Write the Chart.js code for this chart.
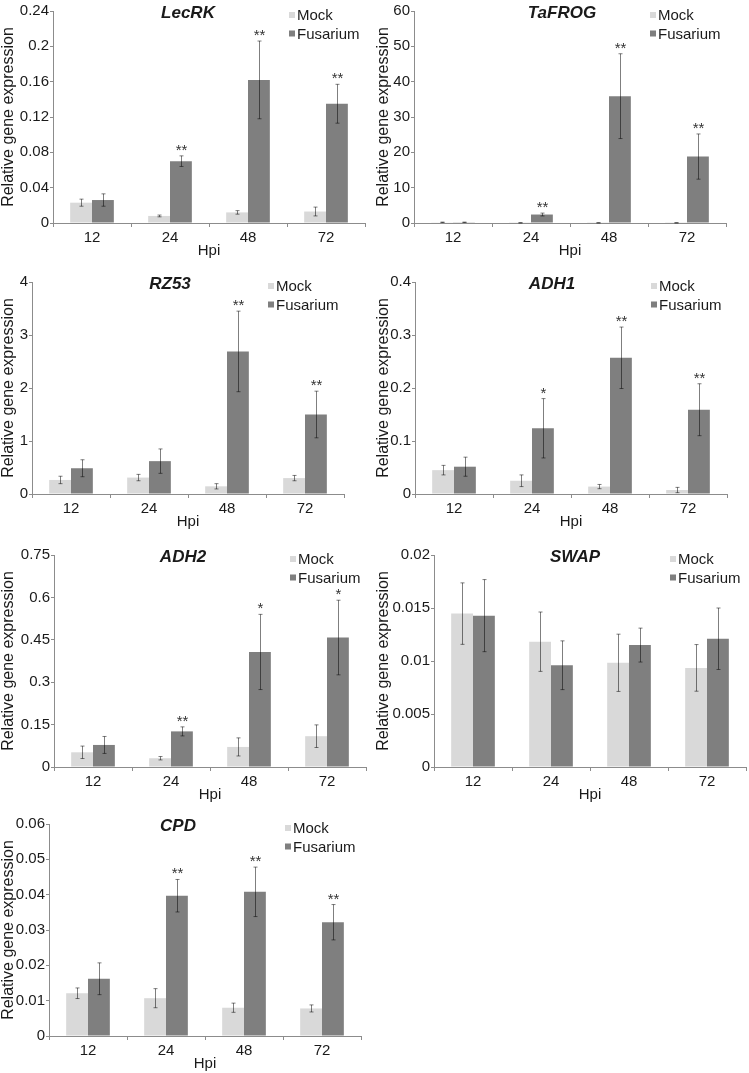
<!DOCTYPE html>
<html>
<head>
<meta charset="utf-8">
<script src="https://cdn.jsdelivr.net/npm/chart.js@4/dist/chart.umd.min.js"></script>
<style>
  body { margin: 0; background: #fff; width: 749px; height: 1073px; position: relative; overflow: hidden; }
  .panel { position: absolute; width: 374px; height: 268px; }
</style>
</head>
<body>
<div class="panel" style="left:0;top:-2px"><canvas id="lecrk" width="374" height="268"></canvas></div>
<div class="panel" style="left:375px;top:-2px"><canvas id="tafrog" width="374" height="268"></canvas></div>
<div class="panel" style="left:0;top:269px"><canvas id="rz53" width="374" height="268"></canvas></div>
<div class="panel" style="left:375px;top:269px"><canvas id="adh1" width="374" height="268"></canvas></div>
<div class="panel" style="left:0;top:542px"><canvas id="adh2" width="374" height="268"></canvas></div>
<div class="panel" style="left:375px;top:542px"><canvas id="swap" width="374" height="268"></canvas></div>
<div class="panel" style="left:0;top:811px"><canvas id="cpd" width="374" height="268"></canvas></div>

<script>
const hpi = ['12', '24', '48', '72'];

const lecrkMock = [0.023, 0.008, 0.012, 0.013];
const lecrkMockErr = [0.004, 0.001, 0.002, 0.005];
const lecrkFusarium = [0.026, 0.070, 0.162, 0.135];
const lecrkFusariumErr = [0.007, 0.006, 0.044, 0.022];
const lecrkStars = ['', '**', '**', '**'];
const lecrkTicks = [0, 0.04, 0.08, 0.12, 0.16, 0.2, 0.24];

const tafrogMock = [0.2, 0.05, 0.05, 0.05];
const tafrogMockErr = [0.05, 0.02, 0.02, 0.02];
const tafrogFusarium = [0.2, 2.4, 35.9, 18.8];
const tafrogFusariumErr = [0.05, 0.4, 12, 6.4];
const tafrogStars = ['', '**', '**', '**'];
const tafrogTicks = [0, 10, 20, 30, 40, 50, 60];

const rz53Mock = [0.265, 0.31, 0.145, 0.30];
const rz53MockErr = [0.07, 0.06, 0.05, 0.05];
const rz53Fusarium = [0.486, 0.62, 2.69, 1.50];
const rz53FusariumErr = [0.16, 0.23, 0.76, 0.44];
const rz53Stars = ['', '', '**', '**'];
const rz53Ticks = [0, 1, 2, 3, 4];

const adh1Mock = [0.045, 0.025, 0.014, 0.0075];
const adh1MockErr = [0.009, 0.011, 0.004, 0.005];
const adh1Fusarium = [0.0515, 0.124, 0.257, 0.159];
const adh1FusariumErr = [0.018, 0.056, 0.058, 0.049];
const adh1Stars = ['', '*', '**', '**'];
const adh1Ticks = [0, 0.1, 0.2, 0.3, 0.4];

const adh2Mock = [0.052, 0.031, 0.071, 0.109];
const adh2MockErr = [0.022, 0.006, 0.032, 0.04];
const adh2Fusarium = [0.078, 0.126, 0.407, 0.458];
const adh2FusariumErr = [0.03, 0.016, 0.133, 0.132];
const adh2Stars = ['', '**', '*', '*'];
const adh2Ticks = [0, 0.15, 0.3, 0.45, 0.6, 0.75];

const swapMock = [0.01447, 0.01182, 0.00983, 0.00935];
const swapMockErr = [0.0029, 0.0028, 0.0027, 0.0022];
const swapFusarium = [0.01428, 0.0096, 0.0115, 0.0121];
const swapFusariumErr = [0.0034, 0.0023, 0.0016, 0.0029];
const swapStars = ['', '', '', ''];
const swapTicks = [0, 0.005, 0.01, 0.015, 0.02];

const cpdMock = [0.0121, 0.0107, 0.008, 0.0078];
const cpdMockErr = [0.0015, 0.0027, 0.0013, 0.001];
const cpdFusarium = [0.0162, 0.0397, 0.0408, 0.0322];
const cpdFusariumErr = [0.0045, 0.0046, 0.007, 0.005];
const cpdStars = ['', '**', '**', '**'];
const cpdTicks = [0, 0.01, 0.02, 0.03, 0.04, 0.05, 0.06];

/* layout: y axis box width, title centre x */
const panels = [
  { id: 'lecrk', gene: 'LecRK', mock: lecrkMock, mockErr: lecrkMockErr, fus: lecrkFusarium, fusErr: lecrkFusariumErr, stars: lecrkStars, ticks: lecrkTicks, axisWidth: 53, titleX: 188 },
  { id: 'tafrog', gene: 'TaFROG', mock: tafrogMock, mockErr: tafrogMockErr, fus: tafrogFusarium, fusErr: tafrogFusariumErr, stars: tafrogStars, ticks: tafrogTicks, axisWidth: 39, titleX: 187 },
  { id: 'rz53', gene: 'RZ53', mock: rz53Mock, mockErr: rz53MockErr, fus: rz53Fusarium, fusErr: rz53FusariumErr, stars: rz53Stars, ticks: rz53Ticks, axisWidth: 32, titleX: 170 },
  { id: 'adh1', gene: 'ADH1', mock: adh1Mock, mockErr: adh1MockErr, fus: adh1Fusarium, fusErr: adh1FusariumErr, stars: adh1Stars, ticks: adh1Ticks, axisWidth: 40, titleX: 177 },
  { id: 'adh2', gene: 'ADH2', mock: adh2Mock, mockErr: adh2MockErr, fus: adh2Fusarium, fusErr: adh2FusariumErr, stars: adh2Stars, ticks: adh2Ticks, axisWidth: 54, titleX: 183 },
  { id: 'swap', gene: 'SWAP', mock: swapMock, mockErr: swapMockErr, fus: swapFusarium, fusErr: swapFusariumErr, stars: swapStars, ticks: swapTicks, axisWidth: 59, titleX: 200 },
  { id: 'cpd', gene: 'CPD', mock: cpdMock, mockErr: cpdMockErr, fus: cpdFusarium, fusErr: cpdFusariumErr, stars: cpdStars, ticks: cpdTicks, axisWidth: 49, titleX: 178 },
];

const FONT = '"Liberation Sans", Arial, sans-serif';
const TEXT = '#1a1a1a';
const AXIS = '#8c8c8c';
const PLOT_WIDTH = 312;

Chart.defaults.font.family = FONT;
Chart.defaults.color = TEXT;

// error bars + significance stars
const errorBars = {
  id: 'errorBars',
  afterDatasetsDraw(chart) {
    const { ctx } = chart;
    const yScale = chart.scales.y;

    ctx.save();
    chart.data.datasets.forEach((dataset, i) => {
      const meta = chart.getDatasetMeta(i);

      meta.data.forEach((bar, j) => {
        const value = dataset.data[j];
        const err = dataset.errors[j];
        const x = Math.round(bar.x) + 0.5;
        const top = yScale.getPixelForValue(value + err);
        const bottom = yScale.getPixelForValue(Math.max(value - err, 0));

        ctx.strokeStyle = 'rgba(0,0,0,.5)';
        ctx.lineWidth = 1;
        ctx.beginPath();
        ctx.moveTo(x, top);
        ctx.lineTo(x, bottom);
        ctx.moveTo(x - 2, top);
        ctx.lineTo(x + 2, top);
        ctx.moveTo(x - 2, bottom);
        ctx.lineTo(x + 2, bottom);
        ctx.stroke();

        if (dataset.stars && dataset.stars[j]) {
          ctx.fillStyle = '#333';
          ctx.font = `15px ${FONT}`;
          ctx.textAlign = 'center';
          ctx.textBaseline = 'alphabetic';
          ctx.fillText(dataset.stars[j], x, top - 1);
        }
      });
    });
    ctx.restore();
  },
};

// gene name and legend inside the plot
const overlay = {
  id: 'overlay',
  afterDraw(chart, args, opts) {
    const { ctx, chartArea } = chart;

    ctx.save();
    ctx.fillStyle = TEXT;
    ctx.font = `italic bold 17px ${FONT}`;
    ctx.textAlign = 'center';
    ctx.textBaseline = 'middle';
    ctx.fillText(opts.gene, opts.titleX, chartArea.top + 2);

    ctx.font = `15px ${FONT}`;
    ctx.textAlign = 'left';
    chart.data.datasets.forEach((dataset, i) => {
      const x = chartArea.left + 236;
      const y = chartArea.top + 4 + i * 18.5;
      ctx.fillStyle = dataset.backgroundColor;
      ctx.fillRect(x, y - 3, 6, 6);
      ctx.fillStyle = TEXT;
      ctx.fillText(dataset.label, x + 8, y + 1);
    });
    ctx.restore();
  },
};

function makeChart(p) {
  const canvas = document.getElementById(p.id);
  const yMax = p.ticks[p.ticks.length - 1];

  new Chart(canvas, {
    type: 'bar',
    data: {
      labels: hpi,
      datasets: [
        { label: 'Mock', data: p.mock, errors: p.mockErr, backgroundColor: '#d9d9d9' },
        { label: 'Fusarium', data: p.fus, errors: p.fusErr, stars: p.stars, backgroundColor: '#7f7f7f' },
      ],
    },
    options: {
      responsive: false,
      animation: false,
      datasets: {
        bar: { categoryPercentage: 0.56, barPercentage: 1 },
      },
      layout: {
        padding: { top: 13, right: 374 - p.axisWidth - PLOT_WIDTH, bottom: 6, left: 0 },
      },
      plugins: {
        legend: { display: false },
        tooltip: { enabled: false },
        overlay: { gene: p.gene, titleX: p.titleX },
      },
      scales: {
        x: {
          grid: { drawOnChartArea: false, drawTicks: true, tickLength: 4, color: AXIS },
          border: { color: AXIS },
          ticks: { color: TEXT, font: { size: 15 }, padding: 2 },
          title: {
            display: true,
            text: 'Hpi',
            color: TEXT,
            font: { size: 15 },
            padding: { top: -7, bottom: 0 },
          },
        },
        y: {
          min: 0,
          max: yMax,
          afterBuildTicks(scale) {
            scale.ticks = p.ticks.map((v) => ({ value: v }));
          },
          afterFit(scale) {
            scale.width = p.axisWidth;
          },
          grid: { drawOnChartArea: false, drawTicks: true, tickLength: 3, color: AXIS },
          border: { color: AXIS },
          ticks: {
            color: TEXT,
            font: { size: 15 },
            padding: 1,
            callback: (v) => String(Number(v.toPrecision(6))),
          },
          title: {
            display: true,
            text: 'Relative gene expression',
            color: TEXT,
            font: { size: 16 },
            padding: { top: -1, bottom: 0 },
          },
        },
      },
    },
    plugins: [errorBars, overlay],
  });
}

panels.forEach(makeChart);
</script>
</body>
</html>
